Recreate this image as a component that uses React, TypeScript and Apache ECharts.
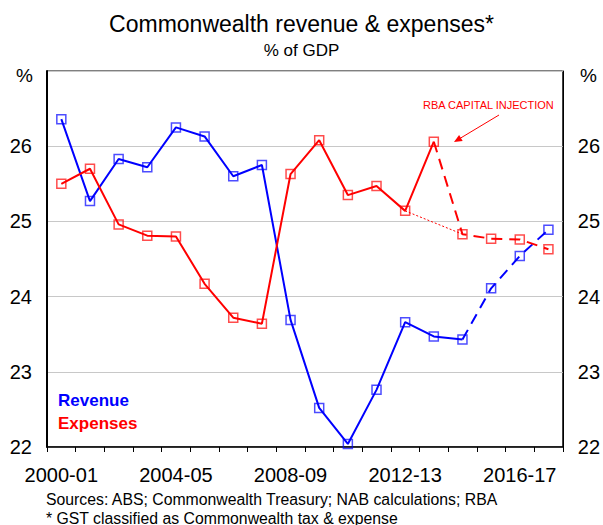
import React, { useEffect, useRef } from "react";
import * as echarts from "echarts";

const categories = [
  "2000-01", "2001-02", "2002-03", "2003-04", "2004-05", "2005-06",
  "2006-07", "2007-08", "2008-09", "2009-10", "2010-11", "2011-12",
  "2012-13", "2013-14", "2014-15", "2015-16", "2016-17", "2017-18",
];
const revenue = [
  26.36, 25.27, 25.83, 25.72, 26.25, 26.13, 25.6, 25.75, 23.69,
  22.52, 22.04, 22.76, 23.66, 23.47, 23.43, 24.11, 24.54, 24.89,
];
const expenses = [
  25.5, 25.7, 24.96, 24.81, 24.8, 24.17, 23.72, 23.64, 25.63,
  26.08, 25.35, 25.47, 25.14, 26.06, 24.83, 24.77, 24.76, 24.63,
];
// index where the dashed (projection) part starts
const revenueProjectionStart = 14;
const expensesProjectionStart = 13;
// counterfactual (no RBA capital injection) links these two indices
const counterfactualFrom = 12;
const counterfactualTo = 14;
const yMin = 22;
const yMax = 27;
const yStep = 1;

const BLUE = "#0000ff";
const RED = "#ff0000";
const FONT = "Liberation Sans, Arial, sans-serif";

function solidPart(vals: number[], end: number) {
  return vals.map((v, i) => (i <= end ? v : null));
}
function dashedPart(vals: number[], start: number) {
  return vals.map((v, i) =>
    i < start ? null : i === start ? { value: v, symbol: "none" } : v
  );
}

export default function App() {
  const ref = useRef<HTMLDivElement>(null);
  useEffect(() => {
    if (!ref.current) return;
    const chart = echarts.init(ref.current, undefined, { renderer: "svg" });
    const markerStyle = (c: string) => ({
      color: "transparent",
      borderColor: c,
      borderWidth: 1.5,
      opacity: 0.7,
    });
    const counterfactual = expenses.map((v, i) =>
      i === counterfactualFrom || i === counterfactualTo ? v : null
    );
    const option: any = {
      animation: false,
      backgroundColor: "#fff",
      textStyle: { fontFamily: FONT },
      title: [
        {
          text: "Commonwealth revenue & expenses*",
          left: "center",
          top: 7,
          textStyle: { fontSize: 23, fontWeight: "normal", color: "#000", fontFamily: FONT },
        },
        {
          text: "% of GDP",
          left: "center",
          top: 37,
          textStyle: { fontSize: 17, fontWeight: "normal", color: "#000", fontFamily: FONT },
        },
      ],
      grid: {
        left: 47,
        right: 35,
        top: 71,
        bottom: 78,
        show: true,
        borderColor: "#000",
        borderWidth: 1,
      },
      xAxis: {
        type: "category",
        data: categories,
        boundaryGap: true,
        axisLine: { lineStyle: { color: "#000", width: 1.5 } },
        axisTick: { show: true, interval: 0, length: 5, lineStyle: { color: "#000" } },
        axisLabel: {
          interval: 3,
          margin: 18,
          fontSize: 20,
          color: "#000",
          fontFamily: FONT,
        },
        splitLine: { show: false },
      },
      yAxis: [
        {
          type: "value",
          min: yMin,
          max: yMax,
          interval: yStep,
          axisLine: { show: true, lineStyle: { color: "#000", width: 2 } },
          axisTick: { show: false },
          axisLabel: {
            margin: 15,
            fontSize: 20,
            color: "#000",
            fontFamily: FONT,
            formatter: (v: number) => (v === yMax ? "" : String(v)),
          },
          splitLine: { show: true, lineStyle: { color: "#c8c8c8", width: 1 } },
        },
        {
          type: "value",
          min: yMin,
          max: yMax,
          interval: yStep,
          position: "right",
          axisLine: { show: true, lineStyle: { color: "#000", width: 1 } },
          axisTick: { show: false },
          axisLabel: {
            margin: 15,
            fontSize: 20,
            color: "#000",
            fontFamily: FONT,
            formatter: (v: number) => (v === yMax ? "" : String(v)),
          },
          splitLine: { show: false },
        },
      ],
      series: [
        {
          name: "Revenue",
          type: "line",
          data: solidPart(revenue, revenueProjectionStart),
          symbol: "rect",
          symbolSize: 9,
          showAllSymbol: true,
          lineStyle: { color: BLUE, width: 2 },
          itemStyle: markerStyle(BLUE),
          z: 3,
        },
        {
          name: "Revenue projection",
          type: "line",
          data: dashedPart(revenue, revenueProjectionStart),
          symbol: "rect",
          symbolSize: 9,
          showAllSymbol: true,
          lineStyle: { color: BLUE, width: 2, type: [11, 7] },
          itemStyle: markerStyle(BLUE),
          z: 3,
        },
        {
          name: "Expenses",
          type: "line",
          data: solidPart(expenses, expensesProjectionStart),
          symbol: "rect",
          symbolSize: 9,
          showAllSymbol: true,
          lineStyle: { color: RED, width: 2 },
          itemStyle: markerStyle(RED),
          z: 3,
        },
        {
          name: "Expenses projection",
          type: "line",
          data: dashedPart(expenses, expensesProjectionStart),
          symbol: "rect",
          symbolSize: 9,
          showAllSymbol: true,
          lineStyle: { color: RED, width: 2, type: [11, 7] },
          itemStyle: markerStyle(RED),
          z: 3,
        },
        {
          name: "Without RBA capital injection",
          type: "line",
          data: counterfactual,
          connectNulls: true,
          symbol: "none",
          lineStyle: { color: RED, width: 1, type: [2, 2] },
          z: 2,
        },
      ],
      graphic: [
        { type: "text", left: 16, top: 66, style: { text: "%", fill: "#000", font: `19px ${FONT}` } },
        { type: "text", left: 580, top: 66, style: { text: "%", fill: "#000", font: `19px ${FONT}` } },
        {
          type: "text",
          left: 58,
          top: 392,
          style: { text: "Revenue", fill: BLUE, font: `bold 17px ${FONT}` },
        },
        {
          type: "text",
          left: 58,
          top: 415,
          style: { text: "Expenses", fill: RED, font: `bold 17px ${FONT}` },
        },
        {
          type: "text",
          left: 423,
          top: 99,
          style: { text: "RBA CAPITAL INJECTION", fill: RED, font: `11px ${FONT}` },
        },
        {
          type: "line",
          shape: { x1: 499, y1: 115, x2: 458, y2: 139.6 },
          style: { stroke: RED, lineWidth: 1 },
        },
        {
          type: "polygon",
          shape: { points: [[454, 142], [462.7, 140.9], [459.1, 134.9]] },
          style: { fill: RED },
        },
        {
          type: "text",
          left: 46,
          top: 491,
          style: {
            text: "Sources: ABS; Commonwealth Treasury; NAB calculations; RBA",
            fill: "#000",
            font: `15.8px ${FONT}`,
          },
        },
        {
          type: "text",
          left: 46,
          top: 510,
          style: {
            text: "* GST classified as Commonwealth tax & expense",
            fill: "#000",
            font: `15.8px ${FONT}`,
          },
        },
      ],
    };
    chart.setOption(option);
    return () => chart.dispose();
  }, []);
  return (
    <div
      ref={ref}
      style={{ position: "fixed", left: 0, top: 0, width: 603, height: 525, background: "#fff" }}
    />
  );
}
